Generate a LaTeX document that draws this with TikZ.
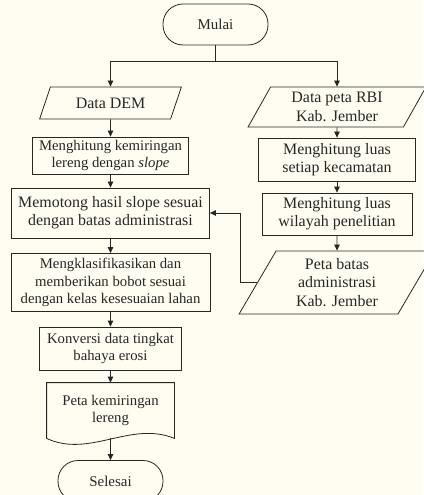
\documentclass[tikz,border=0pt]{standalone}
\usepackage{fontspec}
\setmainfont{Liberation Serif}
\usetikzlibrary{arrows.meta,shapes.geometric}
\definecolor{bgcream}{HTML}{FFFDF2}
\definecolor{ink}{HTML}{262626}
\tikzset{
  line/.style={draw=ink,line width=0.8bp},
  bigtxt/.style={font=\fontsize{16}{18.4}\selectfont},
  smalltxt/.style={font=\fontsize{14.8}{17.6}\selectfont},
  term/.style={line,rectangle,rounded corners=20bp,minimum width=105bp,minimum height=41bp,font=\fontsize{15}{17}\selectfont},
  proc/.style={line,rectangle,align=center,inner sep=1bp,bigtxt},
  io/.style={line,trapezium,trapezium left angle=63,trapezium right angle=117,trapezium stretches=true,align=center,inner sep=1bp,bigtxt},
}

\begin{document}
\begin{tikzpicture}[x=1bp,y=-1bp,>={Triangle[length=6bp,width=5.5bp]},text=ink]
    \fill[bgcream] (0,0) rectangle (423,495);
    \useasboundingbox (0,0) rectangle (423,495);

    \node[term] (mulai) at (215.5,24.5) {Mulai};
    \coordinate (split) at (215.5,61);

    \node[io,minimum width=142bp,minimum height=32bp] (dem) at (110.5,103) {Data DEM};
    \node[proc,smalltxt,minimum width=156bp,minimum height=37bp] (kemir) at (110.5,155.5) {Menghitung kemiringan\\lereng dengan \textit{slope}};
    \node[proc,minimum width=198bp,minimum height=50bp] (potong) at (110.5,213) {Memotong hasil slope sesuai\\dengan batas administrasi};
    \node[proc,smalltxt,minimum width=199bp,minimum height=58bp] (klas) at (110.5,282.5) {Mengklasifikasikan dan\\memberikan bobot sesuai\\dengan kelas kesesuaian lahan};
    \node[proc,smalltxt,minimum width=142bp,minimum height=43bp] (konv) at (110.5,348.5) {Konversi data tingkat\\bahaya erosi};
    \node[proc,smalltxt,draw=none,minimum width=127bp,minimum height=55bp] (petak) at (110.5,410.5) {Peta kemiringan\\lereng};
    \node[term] (selesai) at (110.5,481) {Selesai};

    \node[io,minimum width=178bp,minimum height=40bp] (rbi) at (337,107) {Data peta RBI\\Kab. Jember};
    \node[proc,minimum width=157bp,minimum height=43bp] (luaskec) at (337,159.5) {Menghitung luas\\setiap kecamatan};
    \node[proc,minimum width=150bp,minimum height=42bp] (luaswil) at (337,214) {Menghitung luas\\wilayah penelitian};
    \node[io,minimum width=196bp,minimum height=63bp] (batas) at (337,282.5) {Peta batas\\administrasi\\Kab. Jember};

    \draw[line] (petak.south west) -- (petak.north west) -- (petak.north east) -- (petak.south east)
      .. controls +(-44,-18) and +(43,20) .. (petak.south west);

    \draw[line] (mulai) -- (split);
    \draw[line,->] (split) -| (dem.north);
    \draw[line,->] (split) -| (rbi.north);
    \draw[line,->] (dem) -- (kemir);
    \draw[line,->] (kemir) -- (potong);
    \draw[line,->] (potong) -- (klas);
    \draw[line,->] (klas) -- (konv);
    \draw[line,->] (konv) -- (petak.north);
    \draw[line,->] (petak.south) -- (selesai);
    \draw[line,->] (rbi) -- (luaskec);
    \draw[line,->] (luaskec) -- (luaswil);
    \draw[line,->] (luaswil) -- (batas);
    \draw[line,->] (batas.west) -- ++(-17,0) |- (potong.east);
  \end{tikzpicture}
\end{document}
